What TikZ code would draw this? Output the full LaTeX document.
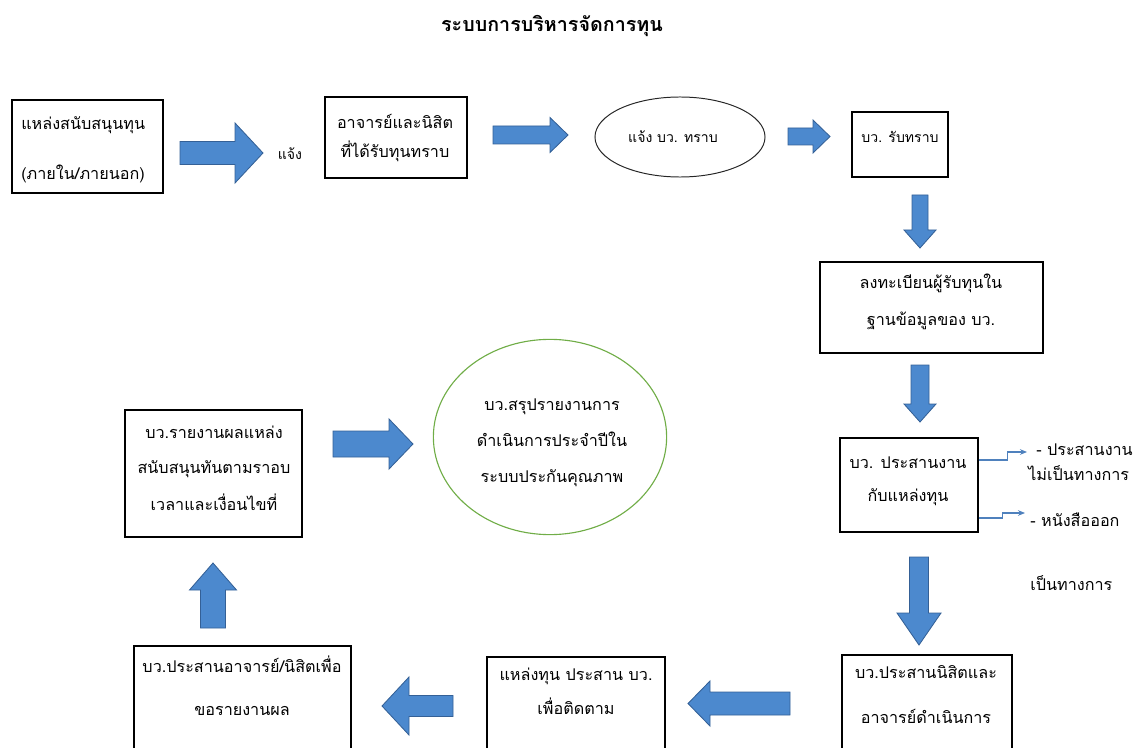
\documentclass[tikz,border=0pt]{standalone}
\usepackage{fontspec}
\newfontfamily\thaifont[Script=Thai]{Loma}
\usetikzlibrary{fit,arrows.meta,shapes.geometric}

\definecolor{arrowblue}{RGB}{76,137,206}
\definecolor{arrowedge}{RGB}{52,96,150}
\definecolor{linkblue}{RGB}{79,129,189}
\definecolor{ringgreen}{RGB}{112,173,71}

% block arrow: tail point, angle, length, shaft half, head half, head length
\newcommand{\blockarrow}[6]{%
  \filldraw[blockarrow, shift={#1}, rotate=#2] (0,-#4) -- ({#3-#6},-#4)
  -- ({#3-#6},-#5) -- (#3,0) -- ({#3-#6},#5) -- ({#3-#6},#4) -- (0,#4) -- cycle;}

\tikzset{
  box/.style={draw=black, line width=1pt, rectangle, inner sep=0pt},
  txt/.style={font=\thaifont\fontsize{11.5}{14}\selectfont, align=center, inner sep=0pt},
  smalltxt/.style={txt, font=\thaifont\fontsize{10}{12}\selectfont},
  title/.style={font=\thaifont\bfseries\fontsize{14}{16}\selectfont, inner sep=0pt},
  blockarrow/.style={fill=arrowblue, draw=arrowedge, line width=0.6pt},
  oval/.style={draw=black!85, line width=0.7pt, ellipse, inner sep=0pt},
  ring/.style={draw=ringgreen, line width=0.8pt, ellipse, inner sep=0pt},
  link/.style={draw=linkblue, line width=0.8pt, -{Stealth[length=5pt,width=4pt]}}
}

\begin{document}
\begin{tikzpicture}[x=0.025cm, y=-0.025cm]
    \useasboundingbox (0,0) rectangle (1138,748);
    \clip (0,0) rectangle (1138,748);
    \node[title] (title) at (552,26) {ระบบการบริหารจัดการทุน};

    % top row
    \node[box, fit={(12,100) (163,193)}] (b1) {};
    \node[txt, align=left, anchor=west] (b1t) at (21,150) {แหล่งสนับสนุนทุน\\[21.6pt](ภายใน/ภายนอก)};
    \blockarrow{(180,153)}{0}{83}{11.5}{30}{28}
    \node[smalltxt] (tell) at (290,154) {แจ้ง};
    \node[box, fit={(325,97) (467,178)}] (b2) {};
    \node[txt] (b2t) at (395,138) {อาจารย์และนิสิต\\[7.3pt]ที่ได้รับทุนทราบ};
    \blockarrow{(493,135)}{0}{75}{9}{17.5}{18}
    \node[oval, minimum width=4.25cm, minimum height=2cm] (e1) at (680,137) {};
    \node[smalltxt] (e1t) at (673,137) {แจ้ง บว. ทราบ};
    \blockarrow{(788,136.5)}{0}{42}{8.5}{16.5}{17}
    \node[box, fit={(852,112) (948,177)}] (b3) {};
    \node[smalltxt] (b3t) at (900,137) {บว. รับทราบ};

    % right column
    \blockarrow{(920,195)}{-90}{53}{8}{16}{18}
    \node[box, fit={(820,262) (1043,353)}] (b4) {};
    \node[txt] (b4t) at (931,301.5) {ลงทะเบียนผู้รับทุนใน\\[12.3pt]ฐานข้อมูลของ บว.};
    \blockarrow{(920,365)}{-90}{57}{9}{16}{18}
    \node[box, fit={(840,438) (978,532)}] (b5) {};
    \node[txt] (b5t) at (908,481.5) {บว. ประสานงาน\\[9.5pt]กับแหล่งทุน};
    \coordinate (t1) at (1027,452);
    \coordinate (t2) at (1025,513);
    \draw[link] (b5.east |- 0,460) -- ++(29,0) |- (t1);
    \draw[link] (b5.east |- 0,518) -- ++(24,0) |- (t2);
    \node[txt, anchor=west] (s1) at (1036,450) {- ประสานงาน};
    \node[txt, anchor=west] (s2) at (1028,473) {ไม่เป็นทางการ};
    \node[txt, anchor=west] (s3) at (1030,520) {- หนังสือออก};
    \node[txt, anchor=west] (s4) at (1030,583) {เป็นทางการ};
    \blockarrow{(919,557)}{-90}{88}{9.5}{22}{32}

    % bottom row
    \node[box, fit={(842,655) (1012,770)}] (b6) {};
    \node[txt] (b6t) at (926,694.5) {บว.ประสานนิสิตและ\\[18pt]อาจารย์ดำเนินการ};
    \blockarrow{(790,703.5)}{180}{102}{11.5}{22.5}{22}
    \node[box, fit={(487,657) (665,770)}] (b7) {};
    \node[txt] (b7t) at (576,691.5) {แหล่งทุน ประสาน บว.\\[8pt]เพื่อติดตาม};
    \blockarrow{(453,706)}{180}{71}{10.5}{29}{27}
    \node[box, fit={(134,646) (351,770)}] (b8) {};
    \node[txt] (b8t) at (242,685.5) {บว.ประสานอาจารย์/นิสิตเพื่อ\\[16.6pt]ขอรายงานผล};

    % left column
    \blockarrow{(213,628)}{90}{65}{12.5}{23.5}{27}
    \node[box, fit={(125,410) (302,537)}] (b9) {};
    \node[txt] (b9t) at (214,468.5) {บว.รายงานผลแหล่ง\\[10.5pt]สนับสนุนทันตามราอบ\\[10.5pt]เวลาและเงื่อนไขที่};
    \blockarrow{(333,444)}{0}{80}{13}{25}{24}
    \node[ring, minimum width=5.83cm, minimum height=4.88cm] (c1) at (550,437) {};
    \node[txt] (c1t) at (552,443) {บว.สรุปรายงานการ\\[11.6pt]ดำเนินการประจำปีใน\\[11.6pt]ระบบประกันคุณภาพ};
\end{tikzpicture}
\end{document}
